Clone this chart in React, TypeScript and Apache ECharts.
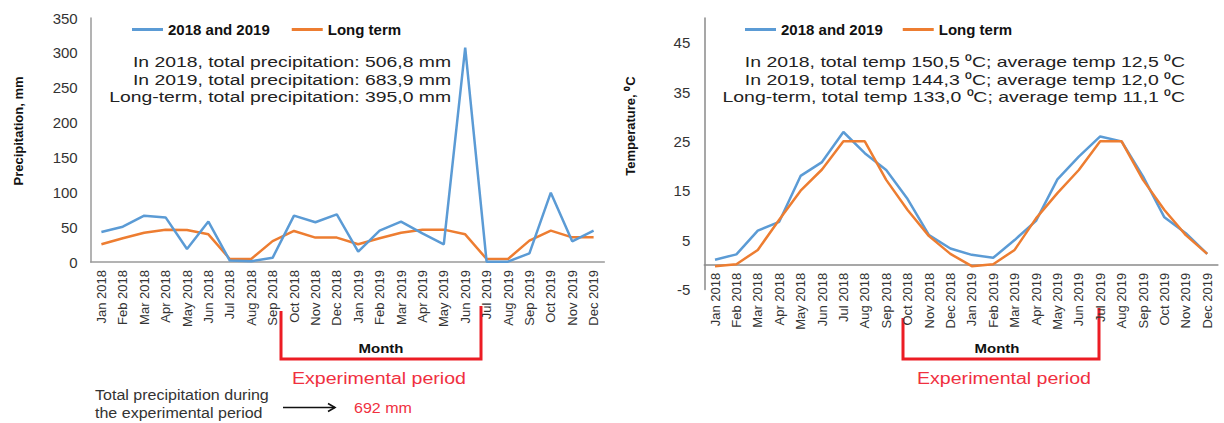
import React, { useEffect, useRef } from "react";
import * as echarts from "echarts";

const months: string[] = [
  "Jan 2018", "Feb 2018", "Mar 2018", "Apr 2018", "May 2018", "Jun 2018",
  "Jul 2018", "Aug 2018", "Sep 2018", "Oct 2018", "Nov 2018", "Dec 2018",
  "Jan 2019", "Feb 2019", "Mar 2019", "Apr 2019", "May 2019", "Jun 2019",
  "Jul 2019", "Aug 2019", "Sep 2019", "Oct 2019", "Nov 2019", "Dec 2019",
];

const seriesNames = ["2018 and 2019", "Long term"];

const precipActual: number[] = [
  43, 50.6, 66.5, 64, 18.6, 58, 2, 1, 6, 66.5, 57, 68.4,
  14.8, 45, 57.8, 41, 25.4, 307.5, 0.5, 0.5, 12.4, 99.4, 29.7, 45,
];
const precipLongTerm: number[] = [
  25.4, 34, 42, 46.4, 46, 39.7, 4.3, 4.3, 30, 44.5, 35, 35,
  25.4, 34, 42, 46.4, 46.4, 39.7, 4.3, 4.3, 30.6, 45, 35.4, 35.4,
];

const tempActual: number[] = [
  1.0, 2.1, 6.9, 8.7, 18.0, 20.8, 26.9, 22.6, 19.2, 13.3, 6.0, 3.3,
  2.0, 1.4, 5.0, 8.9, 17.3, 21.9, 26.0, 25.0, 17.9, 9.6, 6.4, 2.2,
];
const tempLongTerm: number[] = [
  -0.3, 0.1, 3.0, 9.1, 15.0, 19.3, 25.0, 25.0, 17.2, 11.1, 5.8, 2.2,
  -0.3, 0.1, 3.0, 9.4, 14.5, 19.2, 25.0, 25.0, 17.2, 11.1, 6.0, 2.2,
];

const precipNotes: string[] = [
  "In 2018, total precipitation: 506,8 mm",
  "In 2019, total precipitation: 683,9 mm",
  "Long-term, total precipitation: 395,0 mm",
];
const tempNotes: string[] = [
  "In 2018, total temp 150,5 \u2070C; average temp 12,5 \u2070C",
  "In 2019, total temp 144,3 \u2070C; average temp 12,0 \u2070C",
  "Long-term, total temp 133,0 \u2070C; average temp 11,1 \u2070C",
];

const FONT = '"Liberation Sans", Arial, sans-serif';
const BLUE = "#5b9bd5";
const ORANGE = "#ed7d31";
const RED = "#ec1c24";
const RED_TEXT = "#f0303f";

function measure(text: string, size: number, weight: string = "normal"): number {
  const ctx = document.createElement("canvas").getContext("2d");
  if (!ctx) return text.length * size * 0.5;
  ctx.font = `${weight} ${size}px ${FONT}`;
  return ctx.measureText(text).width;
}

function txt(text: string, x: number, y: number, size: number, opts: any = {}): any {
  const weight = opts.weight || "normal";
  const align = opts.align || "left";
  return {
    type: "text",
    x,
    y,
    scaleX: opts.scaleX || 1,
    rotation: opts.rotation || 0,
    silent: true,
    style: {
      text,
      fontSize: size,
      fontWeight: weight,
      fontFamily: FONT,
      fill: opts.color || "#222",
      align,
      textAlign: align,
      verticalAlign: "middle",
      textVerticalAlign: "middle",
    },
  };
}

function fitScale(text: string, size: number, target: number, weight = "normal") {
  const w = measure(text, size, weight);
  return w > 0 ? target / w : 1;
}

export default function App() {
  const ref = useRef<HTMLDivElement>(null);

  useEffect(() => {
    if (!ref.current) return;
    const chart = echarts.init(ref.current, undefined, { renderer: "svg" });

    const noteSize = 15;
    const sLeft = fitScale(precipNotes[2], noteSize, 342);
    const sRight = fitScale(tempNotes[2], noteSize, 462);
    const noteYs = [62, 79.5, 97];

    const bottomSize = 15;
    const sBottom = fitScale("Total precipitation during", bottomSize, 174);
    const sMonth = fitScale("Month", 13, 45, "bold");
    const sExp = fitScale("Experimental period", 16, 174);
    const s692 = fitScale("692 mm", 15, 58);

    const graphics: any[] = [];
    precipNotes.forEach((t, i) =>
      graphics.push(txt(t, 451, noteYs[i], noteSize, { align: "right", scaleX: sLeft }))
    );
    tempNotes.forEach((t, i) =>
      graphics.push(txt(t, 1185, noteYs[i], noteSize, { align: "right", scaleX: sRight }))
    );
    graphics.push(
      txt("Precipitation, mm", 18, 131, 13, {
        weight: "bold", align: "center", rotation: Math.PI / 2, color: "#111",
      })
    );
    graphics.push(
      txt("Temperature, \u2070C", 630, 126, 13, {
        weight: "bold", align: "center", rotation: Math.PI / 2, color: "#111",
      })
    );
    graphics.push({
      type: "polyline",
      silent: true,
      shape: { points: [[281, 311], [281, 359], [481, 359], [481, 306]] },
      style: { stroke: RED, lineWidth: 3, fill: "none", lineJoin: "miter" },
    });
    graphics.push({
      type: "polyline",
      silent: true,
      shape: { points: [[903, 318], [903, 359], [1099, 359], [1099, 308]] },
      style: { stroke: RED, lineWidth: 3, fill: "none", lineJoin: "miter" },
    });
    graphics.push(txt("Month", 381, 348, 13, { weight: "bold", align: "center", scaleX: sMonth, color: "#111" }));
    graphics.push(txt("Month", 997, 348, 13, { weight: "bold", align: "center", scaleX: sMonth, color: "#111" }));
    graphics.push(txt("Experimental period", 379, 379, 16, { align: "center", scaleX: sExp, color: RED_TEXT }));
    graphics.push(txt("Experimental period", 1004, 379, 16, { align: "center", scaleX: sExp, color: RED_TEXT }));
    graphics.push(txt("Total precipitation during", 95, 395, bottomSize, { scaleX: sBottom, color: "#333" }));
    graphics.push(txt("the experimental period", 95, 413, bottomSize, { scaleX: sBottom, color: "#333" }));
    graphics.push({
      type: "line",
      silent: true,
      shape: { x1: 283, y1: 407.5, x2: 335, y2: 407.5 },
      style: { stroke: "#111", lineWidth: 1.6 },
    });
    graphics.push({
      type: "polyline",
      silent: true,
      shape: { points: [[328, 403.5], [335, 407.5], [328, 411.5]] },
      style: { stroke: "#111", lineWidth: 1.6, fill: "none" },
    });
    graphics.push(txt("692 mm", 354, 408, 15, { scaleX: s692, color: RED_TEXT }));

    const axisLabelStyle = { color: "#333", fontFamily: FONT };

    const rightGridHeight = 271.4;
    const tMin = -5;
    const tMax = 50;
    // put the category axis of the temperature chart on the value 0
    const zeroOffset = -(rightGridHeight * (0 - tMin)) / (tMax - tMin);

    const xAxisBase = (gridIndex: number) => ({
      type: "category",
      gridIndex,
      data: months,
      boundaryGap: true,
      axisLine: { show: true, onZero: false, lineStyle: { color: "#9a9a9a", width: 1.5 } },
      axisTick: { show: false },
      axisLabel: { ...axisLabelStyle, rotate: 90, interval: 0, fontSize: 13, margin: 8 },
      splitLine: { show: false },
    });

    const legendBase = {
      top: 17,
      itemWidth: 31,
      itemHeight: 3,
      icon: "rect",
      data: seriesNames,
      textStyle: { fontSize: 15, fontWeight: "bold", color: "#111", fontFamily: FONT },
    };

    const option: any = {
      animation: false,
      backgroundColor: "#ffffff",
      legend: [
        { ...legendBase, left: 127, itemGap: 22 },
        { ...legendBase, left: 740, itemGap: 20 },
      ],
      grid: [
        { left: 90.7, top: 18, width: 513.6, height: 244, containLabel: false },
        { left: 704.3, top: 18, width: 513.6, height: rightGridHeight, containLabel: false },
      ],
      xAxis: [
        xAxisBase(0),
        {
          ...xAxisBase(1),
          offset: zeroOffset,
          axisLine: { show: true, onZero: false, lineStyle: { color: "#8a8a8a", width: 1.5 } },
        },
      ],
      yAxis: [
        {
          type: "value",
          gridIndex: 0,
          min: 0,
          max: 350,
          interval: 50,
          axisLine: { show: true, lineStyle: { color: "#9a9a9a", width: 1.5 } },
          axisTick: { show: false },
          splitLine: { show: false },
          axisLabel: { ...axisLabelStyle, fontSize: 15, margin: 13 },
        },
        {
          type: "value",
          gridIndex: 1,
          min: tMin,
          max: tMax,
          interval: 5,
          axisLine: { show: true, onZero: false, lineStyle: { color: "#8a8a8a", width: 1.5 } },
          axisTick: { show: false },
          splitLine: { show: false },
          axisLabel: {
            ...axisLabelStyle,
            fontSize: 15,
            margin: 14,
            formatter: (v: number) => (Math.round(v + 5) % 10 === 0 && v < 50 ? String(v) : ""),
          },
        },
      ],
      series: [
        {
          name: seriesNames[0], type: "line", xAxisIndex: 0, yAxisIndex: 0,
          data: precipActual, symbol: "none", lineStyle: { color: BLUE, width: 2.5 },
          itemStyle: { color: BLUE }, z: 3,
        },
        {
          name: seriesNames[1], type: "line", xAxisIndex: 0, yAxisIndex: 0,
          data: precipLongTerm, symbol: "none", lineStyle: { color: ORANGE, width: 2.5 },
          itemStyle: { color: ORANGE }, z: 2,
        },
        {
          name: seriesNames[0], type: "line", xAxisIndex: 1, yAxisIndex: 1,
          data: tempActual, symbol: "none", lineStyle: { color: BLUE, width: 2.5 },
          itemStyle: { color: BLUE }, z: 2,
        },
        {
          name: seriesNames[1], type: "line", xAxisIndex: 1, yAxisIndex: 1,
          data: tempLongTerm, symbol: "none", lineStyle: { color: ORANGE, width: 2.5 },
          itemStyle: { color: ORANGE }, z: 3,
        },
      ],
      graphic: graphics,
    };

    chart.setOption(option);
    return () => chart.dispose();
  }, []);

  return (
    <div
      ref={ref}
      style={{ position: "fixed", left: 0, top: 0, width: 1224, height: 423, background: "#fff" }}
    />
  );
}
